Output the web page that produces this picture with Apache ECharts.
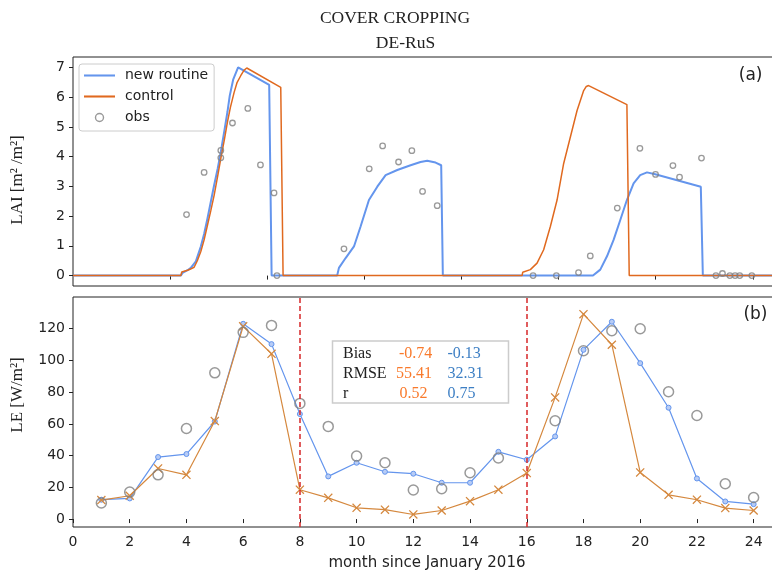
<!DOCTYPE html>
<html>
<head>
<meta charset="utf-8">
<script src="https://cdn.jsdelivr.net/npm/echarts@6/dist/echarts.min.js"></script>
<style>
  html, body { margin: 0; padding: 0; background: #fff; }
  #chart { width: 772px; height: 572px; }
</style>
</head>
<body>
<div id="chart"></div>
<script>
// ---- LAI, daily model output: [day since 1 Jan 2016, LAI] ----
const laiNewRoutine = [
  [0,0],[111,0],[112.8,0.09],[118,0.18],[121.3,0.26],[126.5,0.48],[131.6,0.98],[135,1.4],
  [138.5,1.93],[142,2.5],[145.3,3.04],[149,3.6],[152.2,4.16],[156,4.9],[159,5.5],[161.4,6.05],
  [165,6.6],[170,7.0],[202,6.41],[204.5,0],
  [272,0],[273.8,0.26],[280.7,0.59],[289.3,0.98],[296.1,1.65],[304.7,2.54],[313.3,2.99],
  [321.9,3.38],[333.9,3.55],[347.6,3.71],[357.8,3.82],[364.7,3.86],[373.3,3.80],[379.1,3.71],[380.8,0],
  [535.4,0],[542.9,0.2],[549.8,0.65],[556.6,1.2],[563.5,1.87],[570.3,2.54],[577.2,3.1],
  [584,3.38],[591,3.47],[599.5,3.41],[646.4,2.99],[648.5,0],[730,0]
];
const laiControl = [
  [0,0],[111,0],[112,0.12],[118,0.18],[121,0.22],[124.7,0.28],[128,0.5],[131.6,0.81],[135,1.2],
  [138.5,1.7],[142,2.2],[145.3,2.7],[149,3.35],[152.2,3.94],[156,4.6],[159,5.16],[162,5.65],
  [165.9,6.16],[169,6.5],[172.7,6.72],[176,6.9],[178.9,6.98],[213.9,6.33],[216.3,0],
  [462.4,0],[463,0.11],[470.9,0.2],[477.8,0.42],[484.6,0.87],[491.5,1.65],[498.4,2.54],
  [505.2,3.77],[512.1,4.66],[519,5.55],[525.8,6.22],[528.5,6.36],[530.9,6.39],[570.3,5.75],
  [572.7,0],[730,0]
];
const laiObs = [
  [116.9,2.05],[135,3.47],[152.2,4.21],[152.2,3.96],[164.2,5.13],[180,5.62],[193,3.72],[207,2.78],[210,0],
  [279,0.90],[305,3.59],[318.8,4.36],[335.2,3.82],[348.9,4.20],[359.9,2.83],[375,2.35],
  [473.7,0],[497.7,0],[520.5,0.1],[532.6,0.66],[560.4,2.27],[583.7,4.28],[599.8,3.40],
  [617.7,3.70],[624.5,3.31],[647.1,3.95],[662,0],[668.7,0.07],[676.3,0],[681.7,0],[686.5,0],[698.9,0]
];
const dayTicks = [100,200,300,400,500,600,700];
const laiTicks = [0,1,2,3,4,5,6,7];

// ---- monthly latent heat flux ----
const months = [1,2,3,4,5,6,7,8,9,10,11,12,13,14,15,16,17,18,19,20,21,22,23,24];
const leNewRoutine = [12.2,13.0,39.1,41.0,61.5,123.1,110.3,66.2,26.9,35.5,29.8,28.6,
                      22.9,22.9,42.4,37.4,52.1,106.7,124.4,98.3,70.2,25.6,11.1,9.4];
const leControl    = [12.0,14.7,31.9,27.9,61.8,121.5,104.2,18.5,13.4,7.1,5.9,2.9,
                      5.4,11.3,18.5,29.0,76.7,129.2,109.9,29.4,15.3,12.2,6.9,5.4];
const leObs        = [10.1,17.0,27.9,57.1,92.2,117.7,122.1,72.9,58.4,39.7,35.5,18.3,
                      19.1,29.2,38.5,null,62.0,106.1,118.7,120.0,80.3,65.3,22.3,13.6];
const monthTicks = [0,2,4,6,8,10,12,14,16,18,20,22,24];
const leTicks = [0,20,40,60,80,100,120];
const periodBreaks = [8,16];

// ---- score table ----
const statNames = ['Bias','RMSE','r'];
const statControl = ['-0.74','55.41','0.52'];
const statNew = ['-0.13','32.31','0.75'];

const SANS = '"DejaVu Sans", sans-serif';
const SERIF = '"Liberation Serif", "DejaVu Serif", serif';
const INK = '#222';
const BLUE = '#6495ED';
const ORANGE_TOP = '#E0691F';
const ORANGE_LE = '#D5883E';
const GREY = '#808080';

const chart = echarts.init(document.getElementById('chart'), null, { renderer: 'canvas' });

const tickStyle = { lineStyle: { color: INK, width: 1 }, length: 4 };
const labelStyle = { color: INK, fontFamily: SANS, fontSize: 14 };

const leObsPts = months.map((m, i) => [m, leObs[i]]).filter(p => p[1] !== null);

const statsTexts = [];
statNames.forEach((n, i) => {
  const y = 354 + i * 20;
  statsTexts.push({ type: 'text', z: 30, style: { x: 343, y: y, text: n, font: '16px ' + SERIF, fill: INK, verticalAlign: 'middle' } });
  statsTexts.push({ type: 'text', z: 30, style: { x: [399, 396, 399.5][i], y: y, text: statControl[i], font: '16px ' + SERIF, fill: '#F97A2C', verticalAlign: 'middle' } });
  statsTexts.push({ type: 'text', z: 30, style: { x: 447.5, y: y, text: statNew[i], font: '16px ' + SERIF, fill: '#3D7FC4', verticalAlign: 'middle' } });
});

const PLOT_W = 709;

const option = {
  animation: false,
  backgroundColor: '#fff',
  grid: [
    { left: 73, width: PLOT_W, top: 57, height: 229, outerBoundsMode: 'none', containLabel: false,
      show: true, borderColor: INK, borderWidth: 1, backgroundColor: 'transparent' },
    { left: 73, width: PLOT_W, top: 297, height: 230, outerBoundsMode: 'none', containLabel: false,
      show: true, borderColor: INK, borderWidth: 1, backgroundColor: 'transparent' }
  ],
  xAxis: [
    { type: 'value', gridIndex: 0, min: 0, max: 730,
      axisLine: { show: false }, splitLine: { show: false },
      axisTick: Object.assign({ show: true, customValues: dayTicks }, tickStyle),
      axisLabel: { show: false } },
    { type: 'value', gridIndex: 1, min: 0, max: 25,
      axisLine: { show: false }, splitLine: { show: false },
      axisTick: Object.assign({ show: true, customValues: monthTicks }, tickStyle),
      axisLabel: Object.assign({ customValues: monthTicks, margin: 8 }, labelStyle) }
  ],
  yAxis: [
    { type: 'value', gridIndex: 0, min: -0.35, max: 7.35,
      axisLine: { show: false }, splitLine: { show: false },
      axisTick: Object.assign({ show: true, customValues: laiTicks }, tickStyle),
      axisLabel: Object.assign({ customValues: laiTicks, margin: 8 }, labelStyle) },
    { type: 'value', gridIndex: 1, min: -5, max: 140,
      axisLine: { show: false }, splitLine: { show: false },
      axisTick: Object.assign({ show: true, customValues: leTicks }, tickStyle),
      axisLabel: Object.assign({ customValues: leTicks, margin: 8 }, labelStyle) }
  ],
  legend: {
    data: [
      { name: 'new routine', icon: 'path://M0,0L30,0L30,2L0,2Z', itemStyle: { color: BLUE } },
      { name: 'control', icon: 'path://M0,0L30,0L30,2L0,2Z', itemStyle: { color: ORANGE_TOP } },
      { name: 'obs', icon: 'circle', itemStyle: { color: 'rgba(0,0,0,0)', borderColor: GREY, borderWidth: 1.4 } }
    ],
    orient: 'vertical', left: 79, top: 64,
    itemWidth: 31, itemHeight: 8, itemGap: 6,
    padding: [4, 6, 6, 5],
    borderColor: '#cccccc', borderWidth: 1, borderRadius: 3,
    backgroundColor: 'rgba(255,255,255,0.85)',
    textStyle: { color: INK, fontFamily: SANS, fontSize: 14, lineHeight: 15, padding: [0, 0, 0, 5] },
    selectedMode: false, z: 20
  },
  series: [
    { name: 'new routine', type: 'line', xAxisIndex: 0, yAxisIndex: 0, data: laiNewRoutine,
      symbol: 'none', lineStyle: { color: BLUE, width: 2 }, itemStyle: { color: BLUE }, z: 3 },
    { name: 'control', type: 'line', xAxisIndex: 0, yAxisIndex: 0, data: laiControl,
      symbol: 'none', lineStyle: { color: ORANGE_TOP, width: 1.5 }, itemStyle: { color: ORANGE_TOP }, z: 4 },
    { name: 'obs', type: 'scatter', xAxisIndex: 0, yAxisIndex: 0, data: laiObs,
      symbol: 'circle', symbolSize: 5.5,
      itemStyle: { color: 'rgba(0,0,0,0)', borderColor: GREY, borderWidth: 1.3 }, z: 5 },

    { name: 'LE new routine', type: 'line', xAxisIndex: 1, yAxisIndex: 1, data: months.map((m, i) => [m, leNewRoutine[i]]),
      symbol: 'circle', symbolSize: 5, showSymbol: true,
      lineStyle: { color: BLUE, width: 1.2 },
      itemStyle: { color: '#B7CCF6', borderColor: BLUE, borderWidth: 1 }, z: 3 },
    { name: 'LE control', type: 'line', xAxisIndex: 1, yAxisIndex: 1, data: months.map((m, i) => [m, leControl[i]]),
      symbol: 'path://M1,0L5,4L9,0L10,1L6,5L10,9L9,10L5,6L1,10L0,9L4,5L0,1Z', symbolSize: 9, showSymbol: true,
      lineStyle: { color: ORANGE_LE, width: 1.2 },
      itemStyle: { color: ORANGE_LE }, z: 4,
      markLine: {
        silent: true, symbol: 'none', label: { show: false },
        lineStyle: { color: '#D62728', width: 1.5, type: [5, 3] },
        data: periodBreaks.map(v => ({ xAxis: v })), z: 10
      } },
    { name: 'LE obs', type: 'scatter', xAxisIndex: 1, yAxisIndex: 1, data: leObsPts,
      symbol: 'circle', symbolSize: 10,
      itemStyle: { color: 'rgba(0,0,0,0)', borderColor: GREY, borderWidth: 1.5 }, z: 5 }
  ],
  graphic: [
    { type: 'text', z: 30, style: { x: 395, y: 18, text: 'COVER CROPPING', font: '17.5px ' + SERIF, fill: INK, align: 'center', verticalAlign: 'middle' } },
    { type: 'text', z: 30, style: { x: 405.5, y: 43.5, text: 'DE-RuS', font: '17.5px ' + SERIF, fill: INK, align: 'center', verticalAlign: 'middle' } },
    { type: 'text', z: 30, x: 18, y: 180, rotation: Math.PI / 2, style: { x: 0, y: 0, text: 'LAI [m² /m²]', font: '17px ' + SERIF, fill: INK, align: 'center', verticalAlign: 'middle' } },
    { type: 'text', z: 30, x: 18, y: 395, rotation: Math.PI / 2, style: { x: 0, y: 0, text: 'LE [W/m²]', font: '17px ' + SERIF, fill: INK, align: 'center', verticalAlign: 'middle' } },
    { type: 'text', z: 30, style: { x: 427, y: 563, text: 'month since January 2016', font: '15px ' + SANS, fill: INK, align: 'center', verticalAlign: 'middle' } },
    { type: 'text', z: 30, style: { x: 762.5, y: 76, text: '(a)', font: '17px ' + SANS, fill: INK, align: 'right', verticalAlign: 'middle' } },
    { type: 'text', z: 30, style: { x: 767.5, y: 315, text: '(b)', font: '17px ' + SANS, fill: INK, align: 'right', verticalAlign: 'middle' } },
    { type: 'rect', z: 25, shape: { x: 332.5, y: 341, width: 176, height: 62 }, style: { fill: '#fff', stroke: '#cccccc', lineWidth: 1.5 } }
  ].concat(statsTexts)
};

chart.setOption(option);
</script>
</body>
</html>
